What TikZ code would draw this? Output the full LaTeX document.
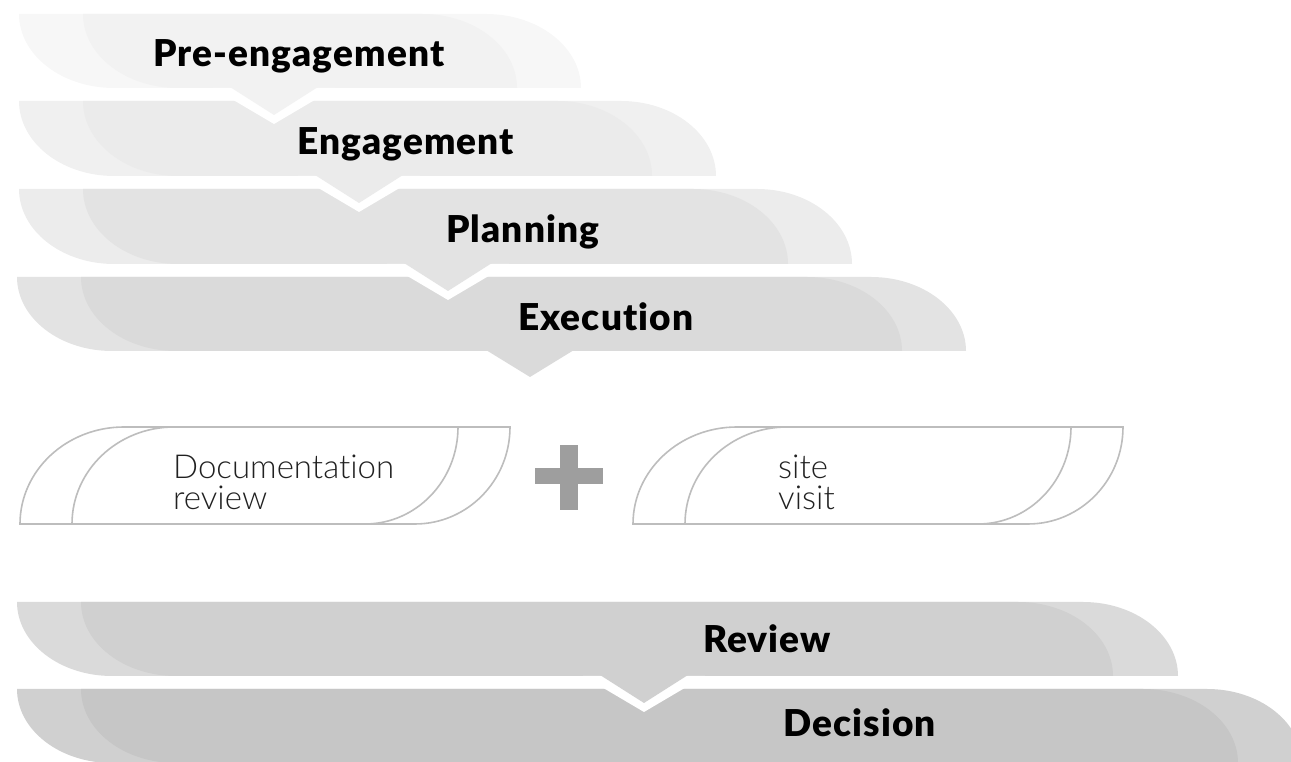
\documentclass[tikz,border=0pt]{standalone}
\usepackage{fontspec}
\setmainfont{Liberation Sans}
\newfontfamily\lightfont[Ligatures={NoCommon,NoRare}]{Lato Light}
\newfontfamily\heavyfont[Ligatures={NoCommon,NoRare}, LetterSpace=3]{Lato Black}
\usetikzlibrary{positioning}
\definecolor{stageoneback}{HTML}{F7F7F7}
\definecolor{stageonefront}{HTML}{F2F2F2}
\definecolor{stagetwoback}{HTML}{F0F0F0}
\definecolor{stagetwofront}{HTML}{EBEBEB}
\definecolor{stagethreeback}{HTML}{ECECEC}
\definecolor{stagethreefront}{HTML}{E3E3E3}
\definecolor{stagefourback}{HTML}{E3E3E3}
\definecolor{stagefourfront}{HTML}{DADADA}
\definecolor{stagefiveback}{HTML}{DADADA}
\definecolor{stagefivefront}{HTML}{D0D0D0}
\definecolor{stagesixback}{HTML}{D0D0D0}
\definecolor{stagesixfront}{HTML}{C6C6C6}
\definecolor{outlinegrey}{HTML}{BDBDBD}
\definecolor{plusgrey}{HTML}{9E9E9E}
\definecolor{inktext}{HTML}{212121}

% one layer of a stage band: colour, left, right, top, bottom
\newcommand{\stagelayer}[5]{%
  \fill[#1] (#2,#4) arc[start angle=180, end angle=270, x radius=95, y radius=#4-#5]
    -- (#3,#5) arc[start angle=0, end angle=90, x radius=95, y radius=#4-#5] -- cycle;}
% pointer under a stage band: colour, centre, bottom
\newcommand{\stagepointer}[3]{%
  \fill[white] (#2-61,#3) -- (#2,#3-36) -- (#2+61,#3) -- cycle;
  \fill[#1] (#2-44,#3+1) -- (#2,#3-27) -- (#2+44,#3+1) -- cycle;}

\tikzset{
  stagelabel/.style={font=\heavyfont\fontsize{37}{40}\selectfont, text=black, inner sep=0pt, anchor=base west},
  tasklabel/.style={font=\lightfont\fontsize{33}{31}\selectfont, text=inktext, align=left, inner sep=0pt, anchor=base west},
  taskline/.style={draw=outlinegrey, line width=1.6pt, fill=white}
}

\begin{document}
\begin{tikzpicture}[x=1pt, y=1pt]
  \useasboundingbox (0,0) rectangle (1291,762);
  \clip (0,0) rectangle (1291,762);

  % Execution
  \stagelayer{stagefourback}{17}{966}{485}{411}
  \stagelayer{stagefourfront}{81}{902}{485}{411}
  \fill[stagefourfront] (486,412) -- (530,385) -- (574,412) -- cycle;

  % Planning
  \stagelayer{stagethreeback}{19}{852}{573}{498}
  \stagelayer{stagethreefront}{83}{788}{573}{498}
  \stagepointer{stagethreefront}{448}{498}

  % Engagement
  \stagelayer{stagetwoback}{19}{716}{661}{586}
  \stagelayer{stagetwofront}{83}{652}{661}{586}
  \stagepointer{stagetwofront}{359}{586}

  % Pre-engagement
  \stagelayer{stageoneback}{19}{581}{748}{674}
  \stagelayer{stageonefront}{83}{517}{748}{674}
  \stagepointer{stageonefront}{274}{674}

  % Decision
  \stagelayer{stagesixback}{17}{1302}{73}{-1}
  \stagelayer{stagesixfront}{81}{1238}{73}{-1}

  % Review
  \stagelayer{stagefiveback}{17}{1178}{160}{86}
  \stagelayer{stagefivefront}{81}{1113}{160}{86}
  \stagepointer{stagefivefront}{644}{86}

  % Stage labels
  \node[stagelabel] (preengagement) at (153,695) {Pre-engagement};
  \node[stagelabel] (engagement) at (297,607) {Engagement};
  \node[stagelabel] (planning) at (446,519) {Planning};
  \node[stagelabel] (execution) at (518,431) {Execution};
  \node[stagelabel] (review) at (703,109) {Review};
  \node[stagelabel] (decision) at (783,25) {Decision};

  % Documentation review
  \draw[taskline] (20,238) arc[start angle=180, end angle=90, x radius=104, y radius=97]
    -- (510,335) arc[start angle=0, end angle=-90, x radius=95, y radius=97] -- cycle;
  \draw[taskline] (72,238) arc[start angle=180, end angle=90, x radius=102, y radius=97]
    -- (458,335) arc[start angle=0, end angle=-90, x radius=93, y radius=97] -- cycle;
  \node[tasklabel] (docreview) at (173,252) {Documentation\\review};

  % Plus
  \fill[plusgrey] (535,278) rectangle (603,294);
  \fill[plusgrey] (560,252) rectangle (578,317);

  % Site visit
  \begin{scope}[xshift=613]
    \draw[taskline] (20,238) arc[start angle=180, end angle=90, x radius=104, y radius=97]
      -- (510,335) arc[start angle=0, end angle=-90, x radius=95, y radius=97] -- cycle;
    \draw[taskline] (72,238) arc[start angle=180, end angle=90, x radius=102, y radius=97]
      -- (458,335) arc[start angle=0, end angle=-90, x radius=93, y radius=97] -- cycle;
  \end{scope}
  \node[tasklabel] (sitevisit) at (778,252) {site\\visit};
\end{tikzpicture}
\end{document}
